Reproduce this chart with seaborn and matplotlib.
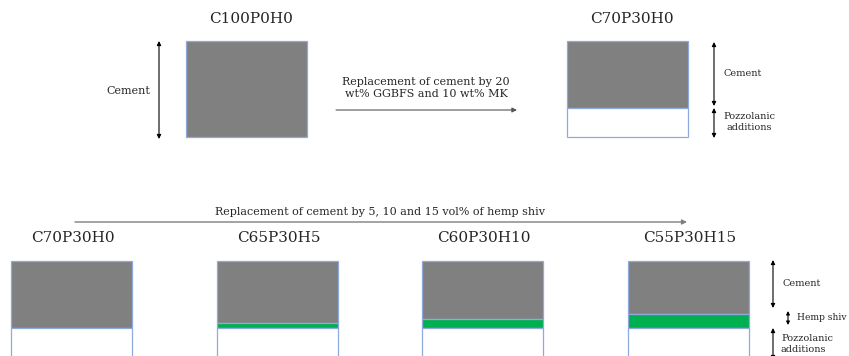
import matplotlib.pyplot as plt
import seaborn as sns

# mixes and their composition (vol% / wt%)
top_mixes = ["C100P0H0", "C70P30H0"]
top_cement = [100, 70]
top_pozz = [0, 30]

bottom_mixes = ["C70P30H0", "C65P30H5", "C60P30H10", "C55P30H15"]
bottom_cement = [70, 65, 60, 55]
bottom_hemp = [0, 5, 10, 15]
bottom_pozz = [30, 30, 30, 30]

top_text = "Replacement of cement by 20\nwt% GGBFS and 10 wt% MK"
bottom_text = "Replacement of cement by 5, 10 and 15 vol% of hemp shiv"

sns.set_style("white")
plt.rcParams['font.family'] = ['DejaVu Serif']

fig = plt.figure(figsize=(8.49, 3.56), dpi=100)
ax = fig.add_axes([0, 0, 1, 1])
ax.set_xlim(0, 849)
ax.set_ylim(356, 0)
ax.axis('off')

grey = "#808080"
green = "#00B050"
edge = "#8FAADC"
txt = "#262626"
scale = 0.96  # pixels per percent
bw = 121


def stack(cx, top, parts, colors):
    y = top
    for val, col in zip(parts, colors):
        if val > 0:
            ax.bar(cx, val * scale, width=bw, bottom=y, color=col,
                   edgecolor=edge, linewidth=0.9, align='center')
        y += val * scale


def darrow(x, y0, y1, ms=6):
    ax.annotate("", xy=(x, y0), xytext=(x, y1),
                arrowprops=dict(arrowstyle="<|-|>", color="black", lw=0.8,
                                mutation_scale=ms, shrinkA=0, shrinkB=0))


# top row
top_cx = [247, 628]
for cx, name, c, p in zip(top_cx, top_mixes, top_cement, top_pozz):
    stack(cx, 41, [c, p], [grey, "white"])
    ax.text(cx + 4, 19, name, ha='center', va='center', fontsize=11, color=txt)

darrow(159, 41, 139)
ax.text(128, 91, "Cement", ha='center', va='center', fontsize=8, color=txt)

ax.annotate("", xy=(517, 110), xytext=(336, 110),
            arrowprops=dict(arrowstyle="-|>", color="#555555", lw=0.8,
                            mutation_scale=7, shrinkA=0, shrinkB=0))
ax.text(426, 88, top_text, ha='center', va='center', fontsize=8,
        linespacing=1.35, color=txt)

darrow(714, 42, 106)
darrow(714, 108, 138)
ax.text(743, 73, "Cement", ha='center', va='center', fontsize=7, color=txt)
ax.text(749, 122, "Pozzolanic\nadditions", ha='center', va='center',
        fontsize=7, linespacing=1.3, color=txt)

# bottom row
bottom_cx = [72, 278, 483, 689]
for cx, name, c, h, p in zip(bottom_cx, bottom_mixes, bottom_cement,
                             bottom_hemp, bottom_pozz):
    stack(cx, 261, [c, h, p], [grey, green, "white"])
    ax.text(cx + 1, 238, name, ha='center', va='center', fontsize=11, color=txt)

ax.annotate("", xy=(687, 222), xytext=(75, 222),
            arrowprops=dict(arrowstyle="-|>", color="#7f7f7f", lw=1.0,
                            mutation_scale=7, shrinkA=0, shrinkB=0))
ax.text(380, 212, bottom_text, ha='center', va='center', fontsize=8, color=txt)

darrow(773, 260, 308)
darrow(788, 311, 325, ms=5)
darrow(773, 328, 360)
ax.text(783, 283, "Cement", ha='left', va='center', fontsize=7, color=txt)
ax.text(797, 318, "Hemp shiv", ha='left', va='center', fontsize=6.6, color=txt)
ax.text(781, 344, "Pozzolanic\nadditions", ha='left', va='center',
        fontsize=7, linespacing=1.3, color=txt)

fig.savefig("out.png", dpi=100)
